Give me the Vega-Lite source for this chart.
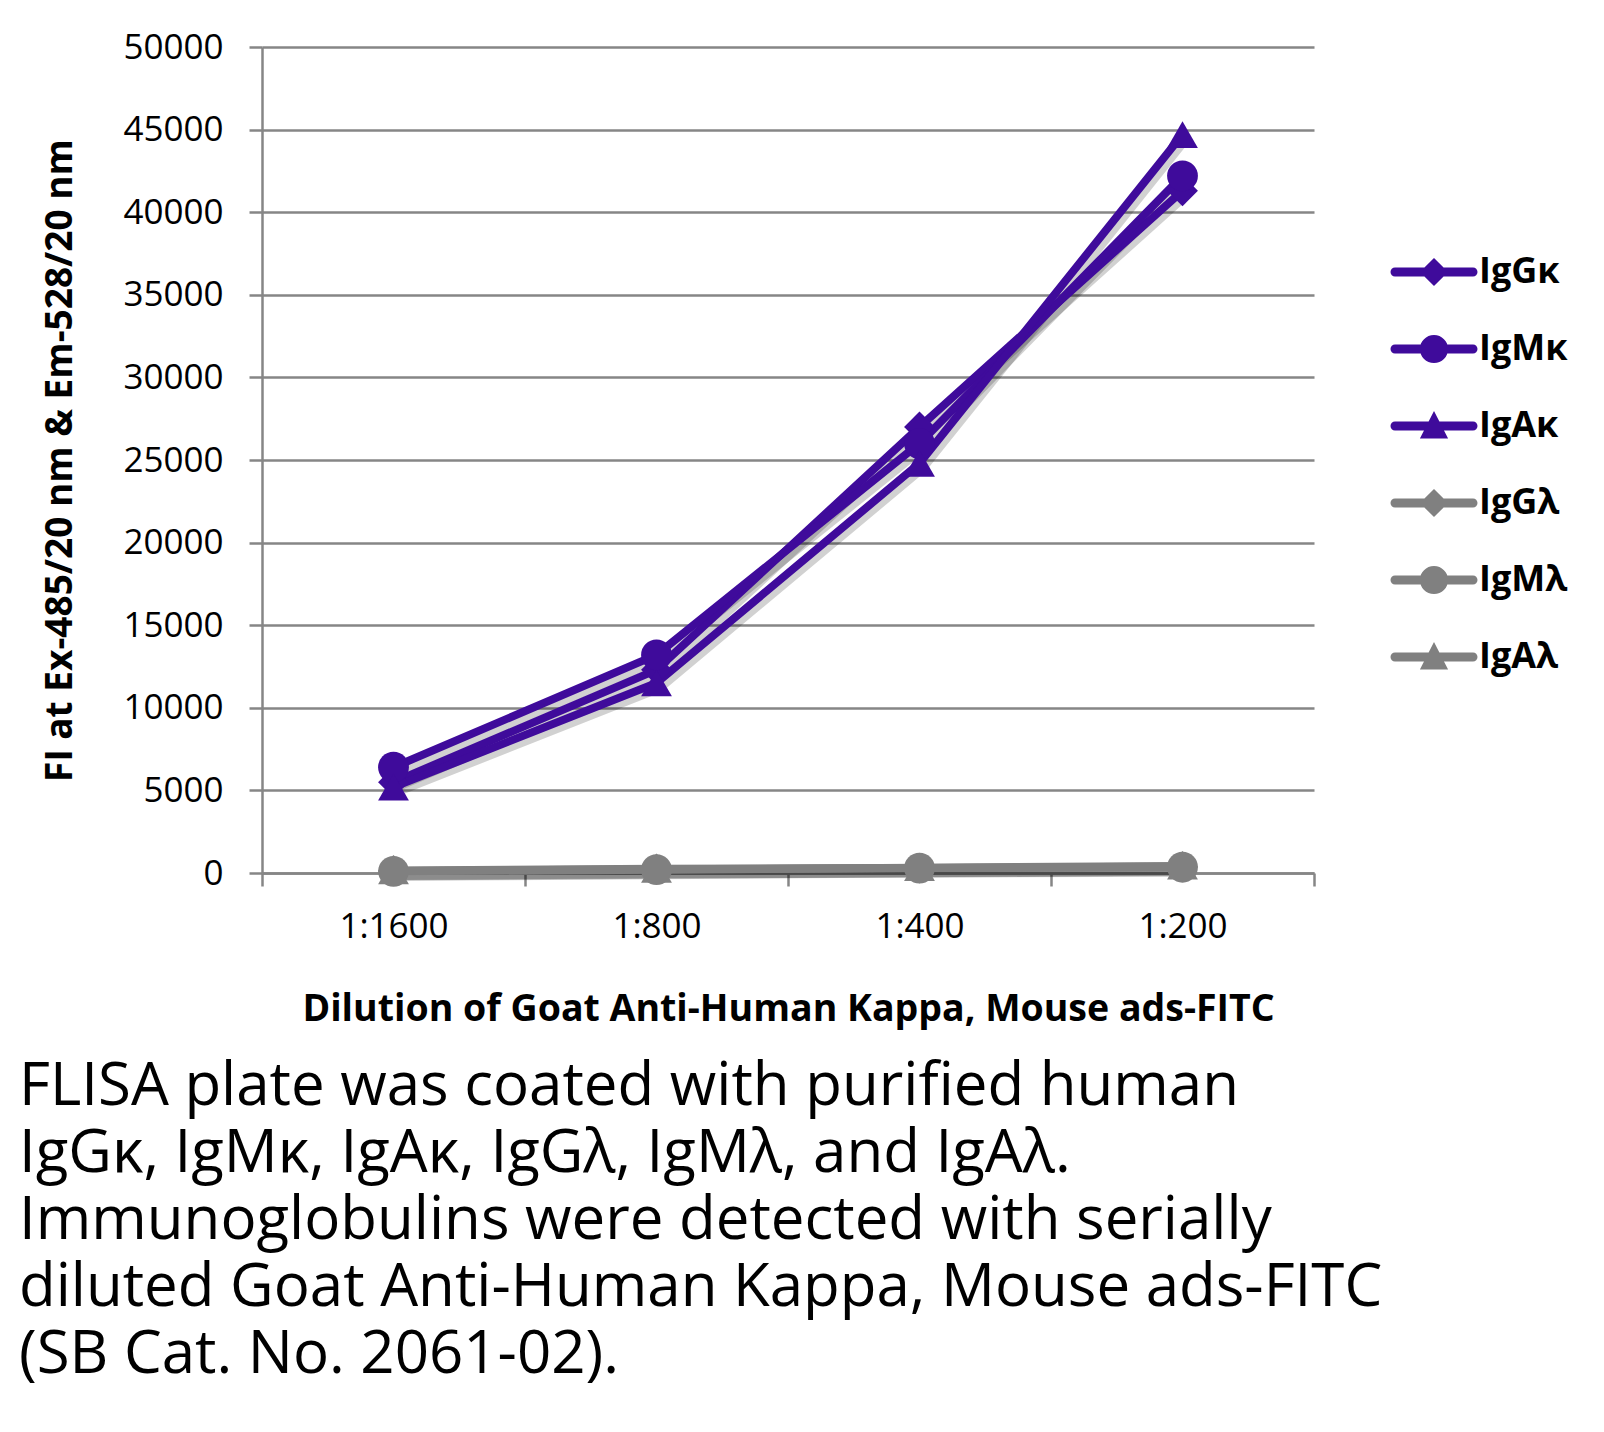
{
  "$schema": "https://vega.github.io/schema/vega-lite/v6.json",
  "width": 1052,
  "height": 826,
  "padding": {"left": 18, "top": 30, "right": 5, "bottom": 5},
  "background": "white",
  "config": {
    "font": "Open Sans",
    "view": {"stroke": null},
    "axis": {
      "domainColor": "#868686", "domainWidth": 2.5,
      "tickColor": "#868686", "tickWidth": 2.5, "tickSize": 13,
      "gridColor": "#868686", "gridWidth": 2.5, "gridOpacity": 1,
      "labelColor": "black", "labelFontSize": 35,
      "titleColor": "black", "titleFontWeight": "bold"
    },
    "legend": {
      "orient": "none", "legendX": 1142, "legendY": 195,
      "padding": 0, "symbolSize": 3600, "symbolStrokeWidth": 0, "symbolOpacity": 1,
      "labelFontSize": 36, "labelFontWeight": "bold", "labelColor": "black",
      "labelOffset": 15, "rowPadding": 29
    }
  },
  "title": {
    "text": [
      "FLISA plate was coated with purified human",
      "IgGκ, IgMκ, IgAκ, IgGλ, IgMλ, and IgAλ.",
      "Immunoglobulins were detected with serially",
      "diluted Goat Anti-Human Kappa, Mouse ads-FITC",
      "(SB Cat. No. 2061-02)."
    ],
    "orient": "bottom", "anchor": "start", "frame": "bounds",
    "fontSize": 60, "fontWeight": "normal", "lineHeight": 67,
    "color": "black", "offset": 30, "dx": -23
  },
  "data": {
    "values": [
      {"series": "IgGκ", "dilution": "1:1600", "fi": 5500},
      {"series": "IgGκ", "dilution": "1:800", "fi": 12300},
      {"series": "IgGκ", "dilution": "1:400", "fi": 27000},
      {"series": "IgGκ", "dilution": "1:200", "fi": 41300},
      {"series": "IgMκ", "dilution": "1:1600", "fi": 6400},
      {"series": "IgMκ", "dilution": "1:800", "fi": 13200},
      {"series": "IgMκ", "dilution": "1:400", "fi": 26000},
      {"series": "IgMκ", "dilution": "1:200", "fi": 42200},
      {"series": "IgAκ", "dilution": "1:1600", "fi": 5200},
      {"series": "IgAκ", "dilution": "1:800", "fi": 11500},
      {"series": "IgAκ", "dilution": "1:400", "fi": 24800},
      {"series": "IgAκ", "dilution": "1:200", "fi": 44700},
      {"series": "IgGλ", "dilution": "1:1600", "fi": 150},
      {"series": "IgGλ", "dilution": "1:800", "fi": 250},
      {"series": "IgGλ", "dilution": "1:400", "fi": 300},
      {"series": "IgGλ", "dilution": "1:200", "fi": 400},
      {"series": "IgMλ", "dilution": "1:1600", "fi": 100},
      {"series": "IgMλ", "dilution": "1:800", "fi": 200},
      {"series": "IgMλ", "dilution": "1:400", "fi": 300},
      {"series": "IgMλ", "dilution": "1:200", "fi": 350},
      {"series": "IgAλ", "dilution": "1:1600", "fi": 120},
      {"series": "IgAλ", "dilution": "1:800", "fi": 220},
      {"series": "IgAλ", "dilution": "1:400", "fi": 320},
      {"series": "IgAλ", "dilution": "1:200", "fi": 420}
    ]
  },
  "encoding": {
    "x": {
      "field": "dilution", "type": "ordinal",
      "sort": ["1:1600", "1:800", "1:400", "1:200"],
      "scale": {"type": "band", "paddingInner": 0, "paddingOuter": 0},
      "axis": {
        "title": "Dilution of Goat Anti-Human Kappa, Mouse ads-FITC",
        "titleFontSize": 37.5,
        "labelAngle": 0, "tickBand": "extent", "labelPadding": 23,
        "titlePadding": 46, "grid": false
      }
    },
    "y": {
      "field": "fi", "type": "quantitative",
      "scale": {"domain": [0, 50000], "nice": false},
      "axis": {
        "title": "FI at Ex-485/20 nm & Em-528/20 nm",
        "titleFontSize": 37,
        "values": [0, 5000, 10000, 15000, 20000, 25000, 30000, 35000, 40000, 45000, 50000],
        "format": "d", "labelPadding": 26, "titlePadding": 43, "grid": true
      }
    }
  },
  "layer": [
    {
      "mark": {"type": "line", "color": "black", "opacity": 0.18, "strokeWidth": 9, "xOffset": 3, "yOffset": 5, "strokeJoin": "round"},
      "encoding": {"detail": {"field": "series"}}
    },
    {
      "mark": {"type": "line", "strokeWidth": 8, "strokeJoin": "round", "strokeCap": "round"},
      "encoding": {
        "color": {
          "field": "series", "type": "nominal",
          "scale": {
            "domain": ["IgGκ", "IgMκ", "IgAκ", "IgGλ", "IgMλ", "IgAλ"],
            "range": ["#3f0b9b", "#3f0b9b", "#3f0b9b", "#808080", "#808080", "#808080"]
          },
          "legend": null
        }
      }
    },
    {
      "mark": {"type": "point", "filled": true, "opacity": 1, "size": 950, "strokeWidth": 0},
      "encoding": {
        "color": {
          "field": "series", "type": "nominal",
          "scale": {
            "domain": ["IgGκ", "IgMκ", "IgAκ", "IgGλ", "IgMλ", "IgAλ"],
            "range": ["#3f0b9b", "#3f0b9b", "#3f0b9b", "#808080", "#808080", "#808080"]
          },
          "legend": null
        },
        "shape": {
          "field": "series", "type": "nominal",
          "scale": {
            "domain": ["IgGκ", "IgMκ", "IgAκ", "IgGλ", "IgMλ", "IgAλ"],
            "range": ["diamond", "circle", "triangle-up", "diamond", "circle", "triangle-up"]
          },
          "legend": null
        }
      }
    },
    {
      "mark": {"type": "point", "filled": true, "opacity": 0},
      "encoding": {
        "color": {
          "field": "series", "type": "nominal",
          "scale": {
            "domain": ["IgGκ", "IgMκ", "IgAκ", "IgGλ", "IgMλ", "IgAλ"],
            "range": ["#3f0b9b", "#3f0b9b", "#3f0b9b", "#808080", "#808080", "#808080"]
          },
          "legend": {"title": null}
        },
        "shape": {
          "field": "series", "type": "nominal",
          "scale": {
            "domain": ["IgGκ", "IgMκ", "IgAκ", "IgGλ", "IgMλ", "IgAλ"],
            "range": [
              "M-1.3,-0.15 L1.3,-0.15 A0.15,0.15 0 0 1 1.3,0.15 L-1.3,0.15 A0.15,0.15 0 0 1 -1.3,-0.15 Z M0,-0.47 L0.47,0 L0,0.47 L-0.47,0 Z",
              "M-1.3,-0.15 L1.3,-0.15 A0.15,0.15 0 0 1 1.3,0.15 L-1.3,0.15 A0.15,0.15 0 0 1 -1.3,-0.15 Z M-0.47,0 A0.47,0.47 0 1 1 0.47,0 A0.47,0.47 0 1 1 -0.47,0 Z",
              "M-1.3,-0.15 L1.3,-0.15 A0.15,0.15 0 0 1 1.3,0.15 L-1.3,0.15 A0.15,0.15 0 0 1 -1.3,-0.15 Z M0,-0.5 L0.47,0.42 L-0.47,0.42 Z",
              "M-1.3,-0.15 L1.3,-0.15 A0.15,0.15 0 0 1 1.3,0.15 L-1.3,0.15 A0.15,0.15 0 0 1 -1.3,-0.15 Z M0,-0.47 L0.47,0 L0,0.47 L-0.47,0 Z",
              "M-1.3,-0.15 L1.3,-0.15 A0.15,0.15 0 0 1 1.3,0.15 L-1.3,0.15 A0.15,0.15 0 0 1 -1.3,-0.15 Z M-0.47,0 A0.47,0.47 0 1 1 0.47,0 A0.47,0.47 0 1 1 -0.47,0 Z",
              "M-1.3,-0.15 L1.3,-0.15 A0.15,0.15 0 0 1 1.3,0.15 L-1.3,0.15 A0.15,0.15 0 0 1 -1.3,-0.15 Z M0,-0.5 L0.47,0.42 L-0.47,0.42 Z"
            ]
          },
          "legend": {"title": null}
        }
      }
    }
  ],
  "resolve": {"scale": {"shape": "independent", "color": "independent"}}
}
